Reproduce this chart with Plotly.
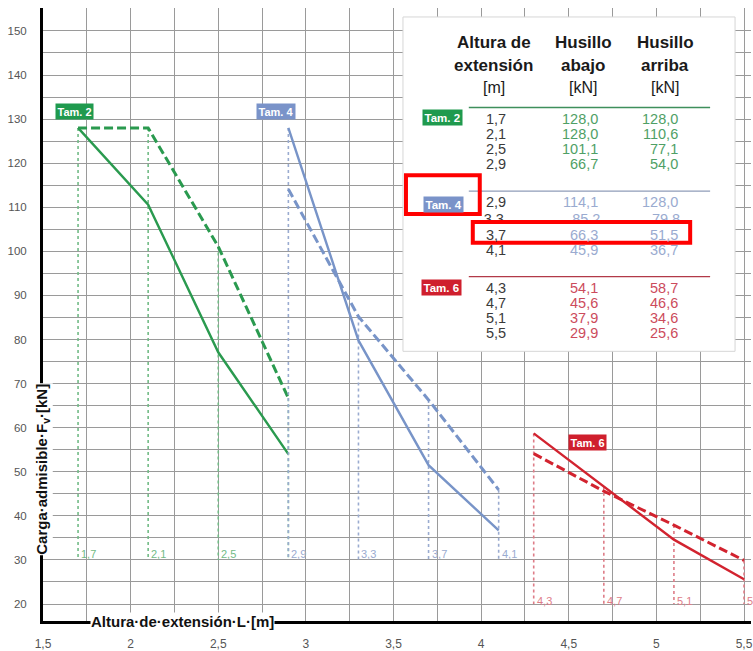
import plotly.graph_objects as go

# ---------------- data ----------------
sizes = ["Tam. 2", "Tam. 4", "Tam. 6"]

heights_t2 = [1.7, 2.1, 2.5, 2.9]
abajo_t2 = [128.0, 128.0, 101.1, 66.7]
arriba_t2 = [128.0, 110.6, 77.1, 54.0]

heights_t4 = [2.9, 3.3, 3.7, 4.1]
abajo_t4 = [114.1, 85.2, 66.3, 45.9]
arriba_t4 = [128.0, 79.8, 51.5, 36.7]

heights_t6 = [4.3, 4.7, 5.1, 5.5]
abajo_t6 = [54.1, 45.6, 37.9, 29.9]
arriba_t6 = [58.7, 46.6, 34.6, 25.6]

x_tick_vals = [1.5, 2, 2.5, 3, 3.5, 4, 4.5, 5, 5.5]
x_tick_text = ["1,5", "2", "2,5", "3", "3,5", "4", "4,5", "5", "5,5"]
y_tick_vals = [20, 30, 40, 50, 60, 70, 80, 90, 100, 110, 120, 130, 140, 150]
y_tick_text = ["20", "30", "40", "50", "60", "70", "80", "90", "100", "110", "120", "130", "140", "150"]

header_cols = [["Altura de", "extensión", "[m]"],
               ["Husillo", "abajo", "[kN]"],
               ["Husillo", "arriba", "[kN]"]]

# ---------------- style ----------------
W, H = 753, 651
# plot area in screen pixels
PL, PT, PR, PB = 43, 8, 753, 624
ML, MT, MR, MB = PL, PT, W - PR, H - PB
X0, XPX = 1.5, 175.75      # data x at left edge, px per unit
YTOP, YPX = 155.2, 4.43    # data y at top edge, px per unit
x_range = [X0, X0 + (PR - PL) / XPX]
y_range = [YTOP - (PB - PT) / YPX, YTOP]


def X(px):
    return X0 + (px - PL) / XPX


def Y(py):
    return YTOP - (py - PT) / YPX


FONT = "Arial, Liberation Sans, sans-serif"
GRID = "#9a9a9a"

line_colors = ["#2a9a4f", "#7894c8", "#d2232f"]
box_colors = ["#1f9a4e", "#7a93c9", "#cf1f2d"]
drop_colors = ["#72bb86", "#9aabd0", "#de7d88"]
table_colors = ["#4f9f66", "#9aabd0", "#cc4b5c"]
sep_colors = ["#3f8f5c", "#8f9cb8", "#b23a48"]
drop_bottoms = [30, 30, 20]
drop_label_y = [31.4, 31.4, 20.6]
chart_label_pos = [(75, 112), (277, 112), (589, 445)]
table_label_pos = [(444, 118), (445, 205), (443, 289)]
sep_y = [108, 192, 278]
row_y = [[120, 135, 150, 165], [203, 221, 236, 251], [289, 304, 320, 335]]

heights_all = [heights_t2, heights_t4, heights_t6]
abajo_all = [abajo_t2, abajo_t4, abajo_t6]
arriba_all = [arriba_t2, arriba_t4, arriba_t6]


def fmt(v):
    return f"{v:.1f}".replace(".", ",")


fig = go.Figure()
annotations = []
shapes = []

# table background (above grid, below traces)
shapes.append(dict(type="rect", xref="x", yref="y", x0=X(404), x1=X(737), y0=Y(353), y1=Y(17),
                   fillcolor="white", line=dict(color="#d6d6d6", width=1), layer="between"))

for g in range(3):
    hs, ab, ar = heights_all[g], abajo_all[g], arriba_all[g]
    # dotted drop lines
    dx, dy = [], []
    for h, a, b in zip(hs, ab, ar):
        dx += [h, h, None]
        dy += [max(a, b), drop_bottoms[g], None]
    fig.add_trace(go.Scatter(x=dx, y=dy, mode="lines", hoverinfo="skip", showlegend=False,
                             line=dict(color=drop_colors[g], width=1.6, dash="dot")))
    # curves
    fig.add_trace(go.Scatter(x=hs, y=ab, mode="lines", hoverinfo="skip", showlegend=False,
                             line=dict(color=line_colors[g], width=3, dash="9px,4px")))
    fig.add_trace(go.Scatter(x=hs, y=ar, mode="lines", hoverinfo="skip", showlegend=False,
                             line=dict(color=line_colors[g], width=2.4)))
    # drop labels
    later = [h for gg in range(g + 1, 3) for h in heights_all[gg]]
    for h in hs:
        if h in later:
            continue
        annotations.append(dict(x=h, y=drop_label_y[g], xref="x", yref="y", text=fmt(h),
                                showarrow=False, xanchor="left", yanchor="middle", xshift=1,
                                font=dict(family=FONT, size=11, color=drop_colors[g])))
    # chart size labels
    cx, cy = chart_label_pos[g]
    annotations.append(dict(x=X(cx), y=Y(cy), xref="x", yref="y", text="<b>" + sizes[g] + "</b>",
                            showarrow=False, bgcolor=box_colors[g], borderpad=1.5,
                            font=dict(family=FONT, size=11, color="white")))
    # table size labels
    tx, ty = table_label_pos[g]
    annotations.append(dict(x=X(tx), y=Y(ty), xref="x", yref="y", text="<b>" + sizes[g] + "</b>",
                            showarrow=False, bgcolor=box_colors[g], borderpad=1.5,
                            font=dict(family=FONT, size=11.5, color="white")))
    # separator
    shapes.append(dict(type="line", xref="x", yref="y", x0=X(470), x1=X(712), y0=Y(sep_y[g]), y1=Y(sep_y[g]),
                       line=dict(color=sep_colors[g], width=1.3), layer="above"))
    # table rows
    for i, (h, a, b) in enumerate(zip(hs, ab, ar)):
        ry = Y(row_y[g][i])
        items = [(X(485), fmt(h), "left", "#3a3a3a"),
                 (X(602), fmt(a), "right", table_colors[g]),
                 (X(682), fmt(b), "right", table_colors[g])]
        if g == 1 and i == 1:
            # partially hidden row (drawn as a trace so the highlight box can cover it)
            fig.add_trace(go.Scatter(
                x=[it[0] for it in items], y=[ry] * 3, mode="text",
                text=[it[1] for it in items],
                textposition=["middle right", "middle left", "middle left"],
                textfont=dict(family=FONT, size=14.5, color=[it[3] for it in items]),
                hoverinfo="skip", showlegend=False))
            continue
        for x_, t_, anc, col in items:
            annotations.append(dict(x=x_, y=ry, xref="x", yref="y", text=t_, showarrow=False,
                                    xanchor=anc, yanchor="middle",
                                    font=dict(family=FONT, size=14.5, color=col)))

# table header
header_x = [495, 585, 667]
header_y = [43, 66, 88]
for c in range(3):
    for r in range(3):
        txt = header_cols[c][r]
        bold = r < 2
        annotations.append(dict(x=X(header_x[c]), y=Y(header_y[r]), xref="x", yref="y",
                                text=("<b>" + txt + "</b>") if bold else txt, showarrow=False,
                                xanchor="center", yanchor="middle",
                                font=dict(family=FONT, size=17 if bold else 16, color="#1a1a1a")))

# red highlight boxes
shapes.append(dict(type="rect", xref="x", yref="y", x0=X(407), x1=X(481), y0=Y(215), y1=Y(176),
                   line=dict(color="#ff0000", width=4), layer="above"))
shapes.append(dict(type="rect", xref="x", yref="y", x0=X(474), x1=X(692), y0=Y(244), y1=Y(223),
                   fillcolor="white", line=dict(color="#ff0000", width=4), layer="above"))

# axis titles
annotations.append(dict(x=X(183), y=Y(624), xref="x", yref="y", text="<b>Altura·de·extensión·L·[m]</b>",
                        showarrow=False, bgcolor="white", borderpad=0, yanchor="middle",
                        font=dict(family=FONT, size=15, color="#111")))
annotations.append(dict(x=X(43), y=Y(472), xref="x", yref="y",
                        text="<b>Carga·admisible·F<sub>v</sub>·[kN]</b>", textangle=-90,
                        showarrow=False, bgcolor="white", borderpad=0,
                        font=dict(family=FONT, size=15, color="#111")))

fig.update_layout(
    width=W, height=H, autosize=False,
    margin=dict(l=ML, r=MR, t=MT, b=MB, pad=0),
    paper_bgcolor="white", plot_bgcolor="white",
    showlegend=False,
    shapes=shapes, annotations=annotations,
    xaxis=dict(range=x_range, tickmode="array", tickvals=x_tick_vals, ticktext=x_tick_text,
               showgrid=True, gridcolor=GRID, gridwidth=1, zeroline=False,
               showline=True, linecolor="black", linewidth=3, ticks="", ticklabelstandoff=10,
               ticklabeloverflow="allow",
               tickfont=dict(family=FONT, size=12, color="#555"),
               minor=dict(tickmode="linear", tick0=1.5, dtick=0.25, showgrid=True,
                          gridcolor=GRID, gridwidth=1, ticks="")),
    yaxis=dict(range=y_range, tickmode="array", tickvals=y_tick_vals, ticktext=y_tick_text,
               showgrid=True, gridcolor=GRID, gridwidth=1, zeroline=False,
               showline=True, linecolor="black", linewidth=3, ticks="", ticklabelstandoff=11,
               tickfont=dict(family=FONT, size=11.5, color="#555"),
               minor=dict(tickmode="linear", tick0=0, dtick=5, showgrid=True,
                          gridcolor=GRID, gridwidth=1, ticks="")),
)

fig.write_html("out.html", config={"displayModeBar": False},
               post_script="document.body.style.margin='0px';document.body.style.overflow='hidden';")
